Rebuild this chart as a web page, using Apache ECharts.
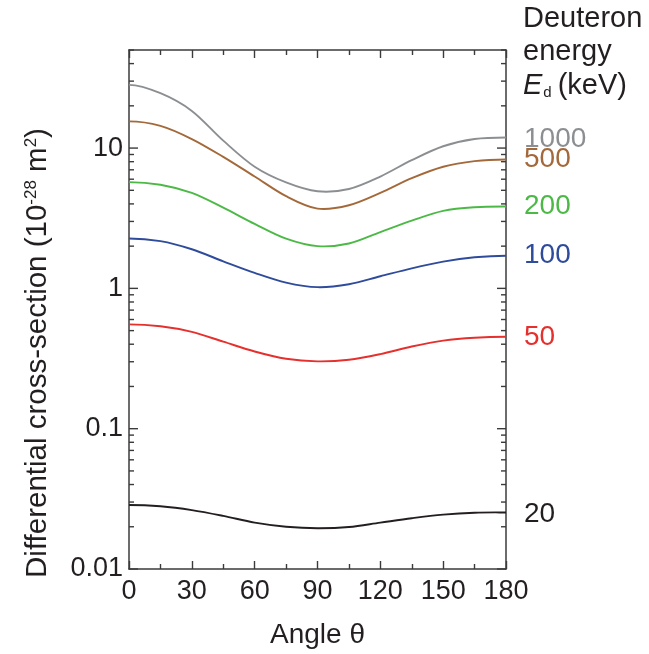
<!DOCTYPE html>
<html>
<head>
<meta charset="utf-8">
<script src="https://cdn.jsdelivr.net/npm/echarts@6/dist/echarts.min.js"></script>
<style>
  html, body { margin: 0; padding: 0; background: #fff; overflow: hidden; }
  #chart { width: 649px; height: 654px; }
</style>
</head>
<body>
<div id="chart"></div>
<script>
// Scattering angle (degrees)
const angles = [0, 15, 30, 45, 60, 75, 90, 105, 120, 135, 150, 165, 180];

// Differential cross-section (1e-28 m^2) for each deuteron energy
const xs1000 = [28.2, 24.6, 18.4, 11.3, 7.36, 5.69, 4.92, 5.11, 6.27, 8.20, 10.3, 11.6, 11.9];
const xs500  = [15.5, 14.4, 11.6, 8.65, 6.27, 4.54, 3.70, 3.91, 4.79, 6.10, 7.36, 8.07, 8.28];
const xs200  = [5.72, 5.48, 4.79, 3.76, 2.88, 2.26, 2.00, 2.09, 2.52, 3.04, 3.57, 3.79, 3.83];
const xs100  = [2.27, 2.17, 1.90, 1.56, 1.29, 1.10, 1.02, 1.07, 1.22, 1.39, 1.55, 1.665, 1.71];
const xs50   = [0.554, 0.537, 0.490, 0.417, 0.355, 0.315, 0.302, 0.310, 0.340, 0.385, 0.424, 0.445, 0.452];
const xs20   = [0.0286, 0.0280, 0.0263, 0.0239, 0.0214, 0.0200, 0.0195, 0.0199, 0.0214, 0.0230, 0.0244, 0.0252, 0.0253];

const energyLabels = ['1000', '500', '200', '100', '50', '20'];
const energyColors = ['#8c8f92', '#a4693a', '#4cb947', '#2f4b9b', '#e5302d', '#231f20'];
const seriesValues = [xs1000, xs500, xs200, xs100, xs50, xs20];
const labelShiftY = [2, 0, 0, 0, 1, 2];

// Log-axis tick positions (major decades and 2..9 minors)
const yMajorTicks = [0.01, 0.1, 1, 10];
const yMinorTicks = [];
[0.01, 0.1, 1, 10].forEach(d => {
  for (let m = 2; m <= 9; m++) {
    const v = +(m * d).toPrecision(3);
    if (v <= 50) yMinorTicks.push(v);
  }
});

const FONT = '"Liberation Sans", Arial, Helvetica, sans-serif';
const INK = '#231f20';
const FRAME = '#3b3b3b';

const chart = echarts.init(document.getElementById('chart'), null, { renderer: 'canvas' });

// Smooth curve through the points in screen space (Catmull-Rom -> cubic Bezier),
// with flat tangents at 0 and 180 degrees.
function curveSeries(vals, i) {
  return {
    name: energyLabels[i],
    type: 'custom',
    xAxisIndex: 0,
    yAxisIndex: 0,
    data: angles.map((a, k) => [a, vals[k]]),
    silent: true,
    z: 3,
    renderItem: function (params, api) {
      if (params.dataIndex !== 0) return null;
      const pts = angles.map((a, k) => api.coord([a, vals[k]]));
      const n = pts.length;
      const get = k => {
        if (k < 0) return [2 * pts[0][0] - pts[1][0], pts[1][1]];
        if (k >= n) return [2 * pts[n - 1][0] - pts[n - 2][0], pts[n - 2][1]];
        return pts[k];
      };
      let d = 'M' + pts[0][0] + ' ' + pts[0][1];
      for (let k = 0; k < n - 1; k++) {
        const p0 = get(k - 1), p1 = get(k), p2 = get(k + 1), p3 = get(k + 2);
        const c1 = [p1[0] + (p2[0] - p0[0]) / 6, p1[1] + (p2[1] - p0[1]) / 6];
        const c2 = [p2[0] - (p3[0] - p1[0]) / 6, p2[1] - (p3[1] - p1[1]) / 6];
        d += ' C' + c1[0] + ' ' + c1[1] + ' ' + c2[0] + ' ' + c2[1] + ' ' + p2[0] + ' ' + p2[1];
      }
      const end = pts[n - 1];
      return {
        type: 'group',
        children: [
          {
            type: 'path',
            shape: { pathData: d },
            style: { stroke: energyColors[i], lineWidth: 1.9, fill: null }
          },
          {
            type: 'text',
            x: end[0] + 18,
            y: end[1] + labelShiftY[i],
            style: {
              text: energyLabels[i],
              fill: energyColors[i],
              fontFamily: FONT,
              fontSize: 28,
              align: 'left',
              verticalAlign: 'middle'
            }
          }
        ]
      };
    }
  };
}

// Inward log ticks on both left and right frame edges
const tickData = yMajorTicks.map(v => [v, 1]).concat(yMinorTicks.map(v => [v, 0]));
const tickSeries = {
  type: 'custom',
  xAxisIndex: 0,
  yAxisIndex: 0,
  data: tickData,
  silent: true,
  clip: false,
  z: 4,
  renderItem: function (params, api) {
    const v = api.value(0);
    const major = api.value(1) === 1;
    const len = major ? 9 : 5;
    const pl = api.coord([0, v]);
    const pr = api.coord([180, v]);
    const style = { stroke: FRAME, lineWidth: 1.4 };
    return {
      type: 'group',
      children: [
        { type: 'line', shape: { x1: pl[0], y1: pl[1], x2: pl[0] + len, y2: pl[1] }, style: style },
        { type: 'line', shape: { x1: pr[0], y1: pr[1], x2: pr[0] - len, y2: pr[1] }, style: style }
      ]
    };
  }
};

const xAxisCommon = {
  type: 'value',
  min: 0,
  max: 180,
  interval: 30,
  splitLine: { show: false },
  axisLine: { show: true, onZero: false, lineStyle: { color: FRAME, width: 1.5 } },
  axisTick: { show: true, inside: true, length: 8, lineStyle: { color: FRAME, width: 1.4 } },
  minorTick: { show: true, splitNumber: 2, length: 5, lineStyle: { color: FRAME, width: 1.4 } }
};

chart.setOption({
  animation: false,
  backgroundColor: '#ffffff',
  grid: { left: 129, right: 143, top: 50, bottom: 74, containLabel: false },
  xAxis: [
    Object.assign({}, xAxisCommon, {
      position: 'bottom',
      name: 'Angle θ',
      nameLocation: 'middle',
      nameGap: 52,
      nameTextStyle: { fontFamily: FONT, fontSize: 28, color: INK },
      axisLabel: { fontFamily: FONT, fontSize: 27, color: INK, margin: 9 }
    }),
    Object.assign({}, xAxisCommon, {
      position: 'top',
      axisLabel: { show: false }
    })
  ],
  yAxis: [
    {
      type: 'log',
      logBase: 10,
      min: 0.01,
      max: 50,
      position: 'left',
      splitLine: { show: false },
      axisLine: { show: true, onZero: false, lineStyle: { color: FRAME, width: 1.5 } },
      axisTick: { show: false },
      axisLabel: {
        fontFamily: FONT, fontSize: 27, color: INK, margin: 6,
        showMaxLabel: false,
        formatter: function (v) {
          return yMajorTicks.some(t => Math.abs(t - v) / t < 1e-6) ? String(v) : '';
        }
      }
    },
    {
      type: 'log',
      logBase: 10,
      min: 0.01,
      max: 50,
      position: 'right',
      splitLine: { show: false },
      axisLine: { show: true, onZero: false, lineStyle: { color: FRAME, width: 1.5 } },
      axisTick: { show: false },
      axisLabel: { show: false }
    }
  ],
  series: seriesValues.map(curveSeries).concat([tickSeries]),
  graphic: [
    {
      type: 'text',
      x: 38,
      y: 353,
      rotation: Math.PI / 2,
      style: {
        text: 'Differential cross-section (10{sup|-28} m{sup|2})',
        fontFamily: FONT,
        fontSize: 29.5,
        fill: INK,
        align: 'center',
        verticalAlign: 'middle',
        rich: {
          sup: { fontFamily: FONT, fontSize: 17, fill: INK, verticalAlign: 'top', padding: [0, 0, 13, 0] }
        }
      }
    },
    {
      type: 'text',
      left: 523,
      top: 4,
      style: { text: 'Deuteron', fontFamily: FONT, fontSize: 29, fill: INK }
    },
    {
      type: 'text',
      left: 523,
      top: 37,
      style: { text: 'energy', fontFamily: FONT, fontSize: 29, fill: INK }
    },
    {
      type: 'text',
      left: 523,
      top: 71,
      style: {
        text: '{e|E}{sub|d}{t|(keV)}',
        fontFamily: FONT,
        fontSize: 29,
        fill: INK,
        rich: {
          e: { fontFamily: FONT, fontSize: 29, fontStyle: 'italic', fill: INK },
          sub: { fontFamily: FONT, fontSize: 15, fill: INK, verticalAlign: 'bottom', padding: [10, 6, 0, 1] },
          t: { fontFamily: FONT, fontSize: 29, fill: INK }
        }
      }
    }
  ]
});
</script>
</body>
</html>
